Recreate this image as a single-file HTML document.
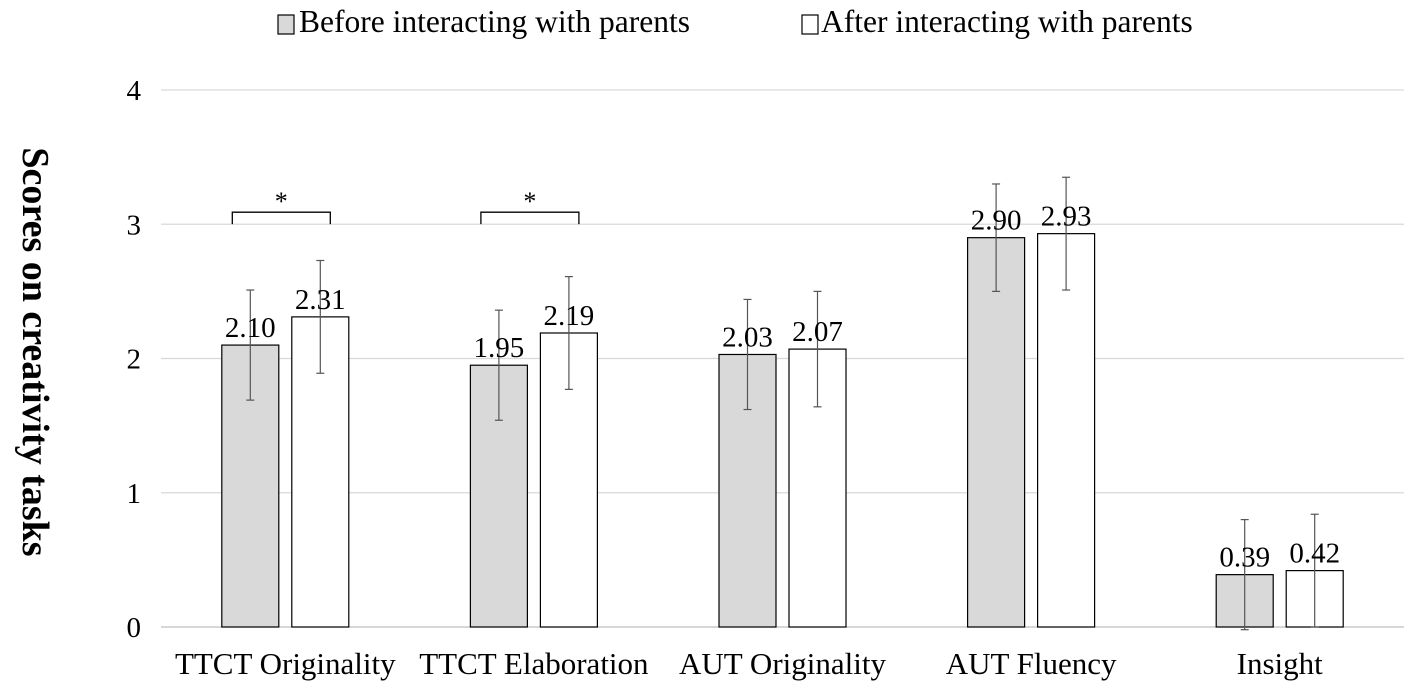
<!DOCTYPE html>
<html><head><meta charset="utf-8"><style>
body{margin:0;background:#fff;}
svg{display:block;font-family:"Liberation Serif",serif;}
</style></head><body>
<svg id="chart" width="1418" height="692" viewBox="0 0 1418 692" xmlns="http://www.w3.org/2000/svg">
<g id="legend">
  <rect x="278" y="15" width="16" height="19" fill="#d9d9d9" stroke="#000" stroke-width="1.2"/>
  <text x="299" y="32" font-size="31.5">Before interacting with parents</text>
  <rect x="802" y="15" width="16" height="19" fill="#fff" stroke="#000" stroke-width="1.2"/>
  <text x="821" y="32" font-size="31.5">After interacting with parents</text>
</g>
<text transform="translate(23,352) rotate(90)" text-anchor="middle" font-size="38" font-weight="bold">Scores on creativity tasks</text>
<g id="grid"></g><g id="marks"></g>
</svg>
<script>
const categories=["TTCT Originality","TTCT Elaboration","AUT Originality","AUT Fluency","Insight"];
const beforeVals=[2.10,1.95,2.03,2.90,0.39];
const afterVals=[2.31,2.19,2.07,2.93,0.42];
const beforeErr=[0.41,0.41,0.41,0.40,0.41];
const afterErr=[0.42,0.42,0.43,0.42,0.42];
const yTicks=[0,1,2,3,4];
const sigCats=[0,1];
const NS="http://www.w3.org/2000/svg";
const svg=document.getElementById('chart');
const grid=document.getElementById('grid');
const marks=document.getElementById('marks');
const x0=161,x1=1404,yBase=627,yTop=90,yMax=4;
const y=v=>yBase-(v/yMax)*(yBase-yTop);
const band=(x1-x0)/categories.length;
const cx=i=>x0+band*(i+0.5);
function mk(tag,attrs,parent){const e=document.createElementNS(NS,tag);for(const k in attrs)e.setAttribute(k,attrs[k]);parent.appendChild(e);return e;}
yTicks.forEach(t=>{
  const l=mk('line',{x1:x0,x2:x1,y1:y(t),y2:y(t),stroke:t===0?'#bfbfbf':'#d9d9d9','stroke-width':1.2},grid);
  
  
  const tx=mk('text',{x:141,y:y(t)+10,'text-anchor':'end','font-size':29},grid);
  tx.textContent=t;
  
  
});
const bw=57,gap=13;
categories.forEach((c,i)=>{
  const c0=cx(i);
  [[beforeVals,beforeErr,'#d9d9d9',c0-gap/2-bw,'before'],[afterVals,afterErr,'#fff',c0+gap/2,'after']].forEach(([vals,errs,fill,bx,nm])=>{
    const v=vals[i];
    const r=mk('rect',{x:bx,y:y(v),width:bw,height:yBase-y(v),fill:fill,stroke:'#000','stroke-width':1.2},marks);
    
    
    const mx=bx+bw/2;
    const e=mk('line',{x1:mx,x2:mx,y1:y(v+errs[i]),y2:y(v-errs[i]),stroke:'#555','stroke-width':1.2},marks);
    
    
    [v+errs[i],v-errs[i]].forEach(ev=>{mk('line',{x1:mx-4,x2:mx+4,y1:y(ev),y2:y(ev),stroke:'#555','stroke-width':1.2},marks);});
    const t=mk('text',{x:mx,y:y(v)-8,'text-anchor':'middle','font-size':29},marks);
    t.textContent=v.toFixed(2);
    
    
  });
  const lab=mk('text',{x:c0,y:674,'text-anchor':'middle','font-size':31},marks);
  lab.textContent=c;
  
  
});
sigCats.forEach(i=>{
  const c0=cx(i),l=c0-53,r=c0+45,by=y(3.09);
  const p=mk('path',{d:`M${l},${by+12}V${by}H${r}V${by+12}`,fill:'none',stroke:'#000','stroke-width':1.3},marks);
  
  
  const s=mk('text',{x:(l+r)/2,y:by-2,'text-anchor':'middle','font-size':26},marks);
  s.textContent='*';
  
  
});
</script>
</body></html>
